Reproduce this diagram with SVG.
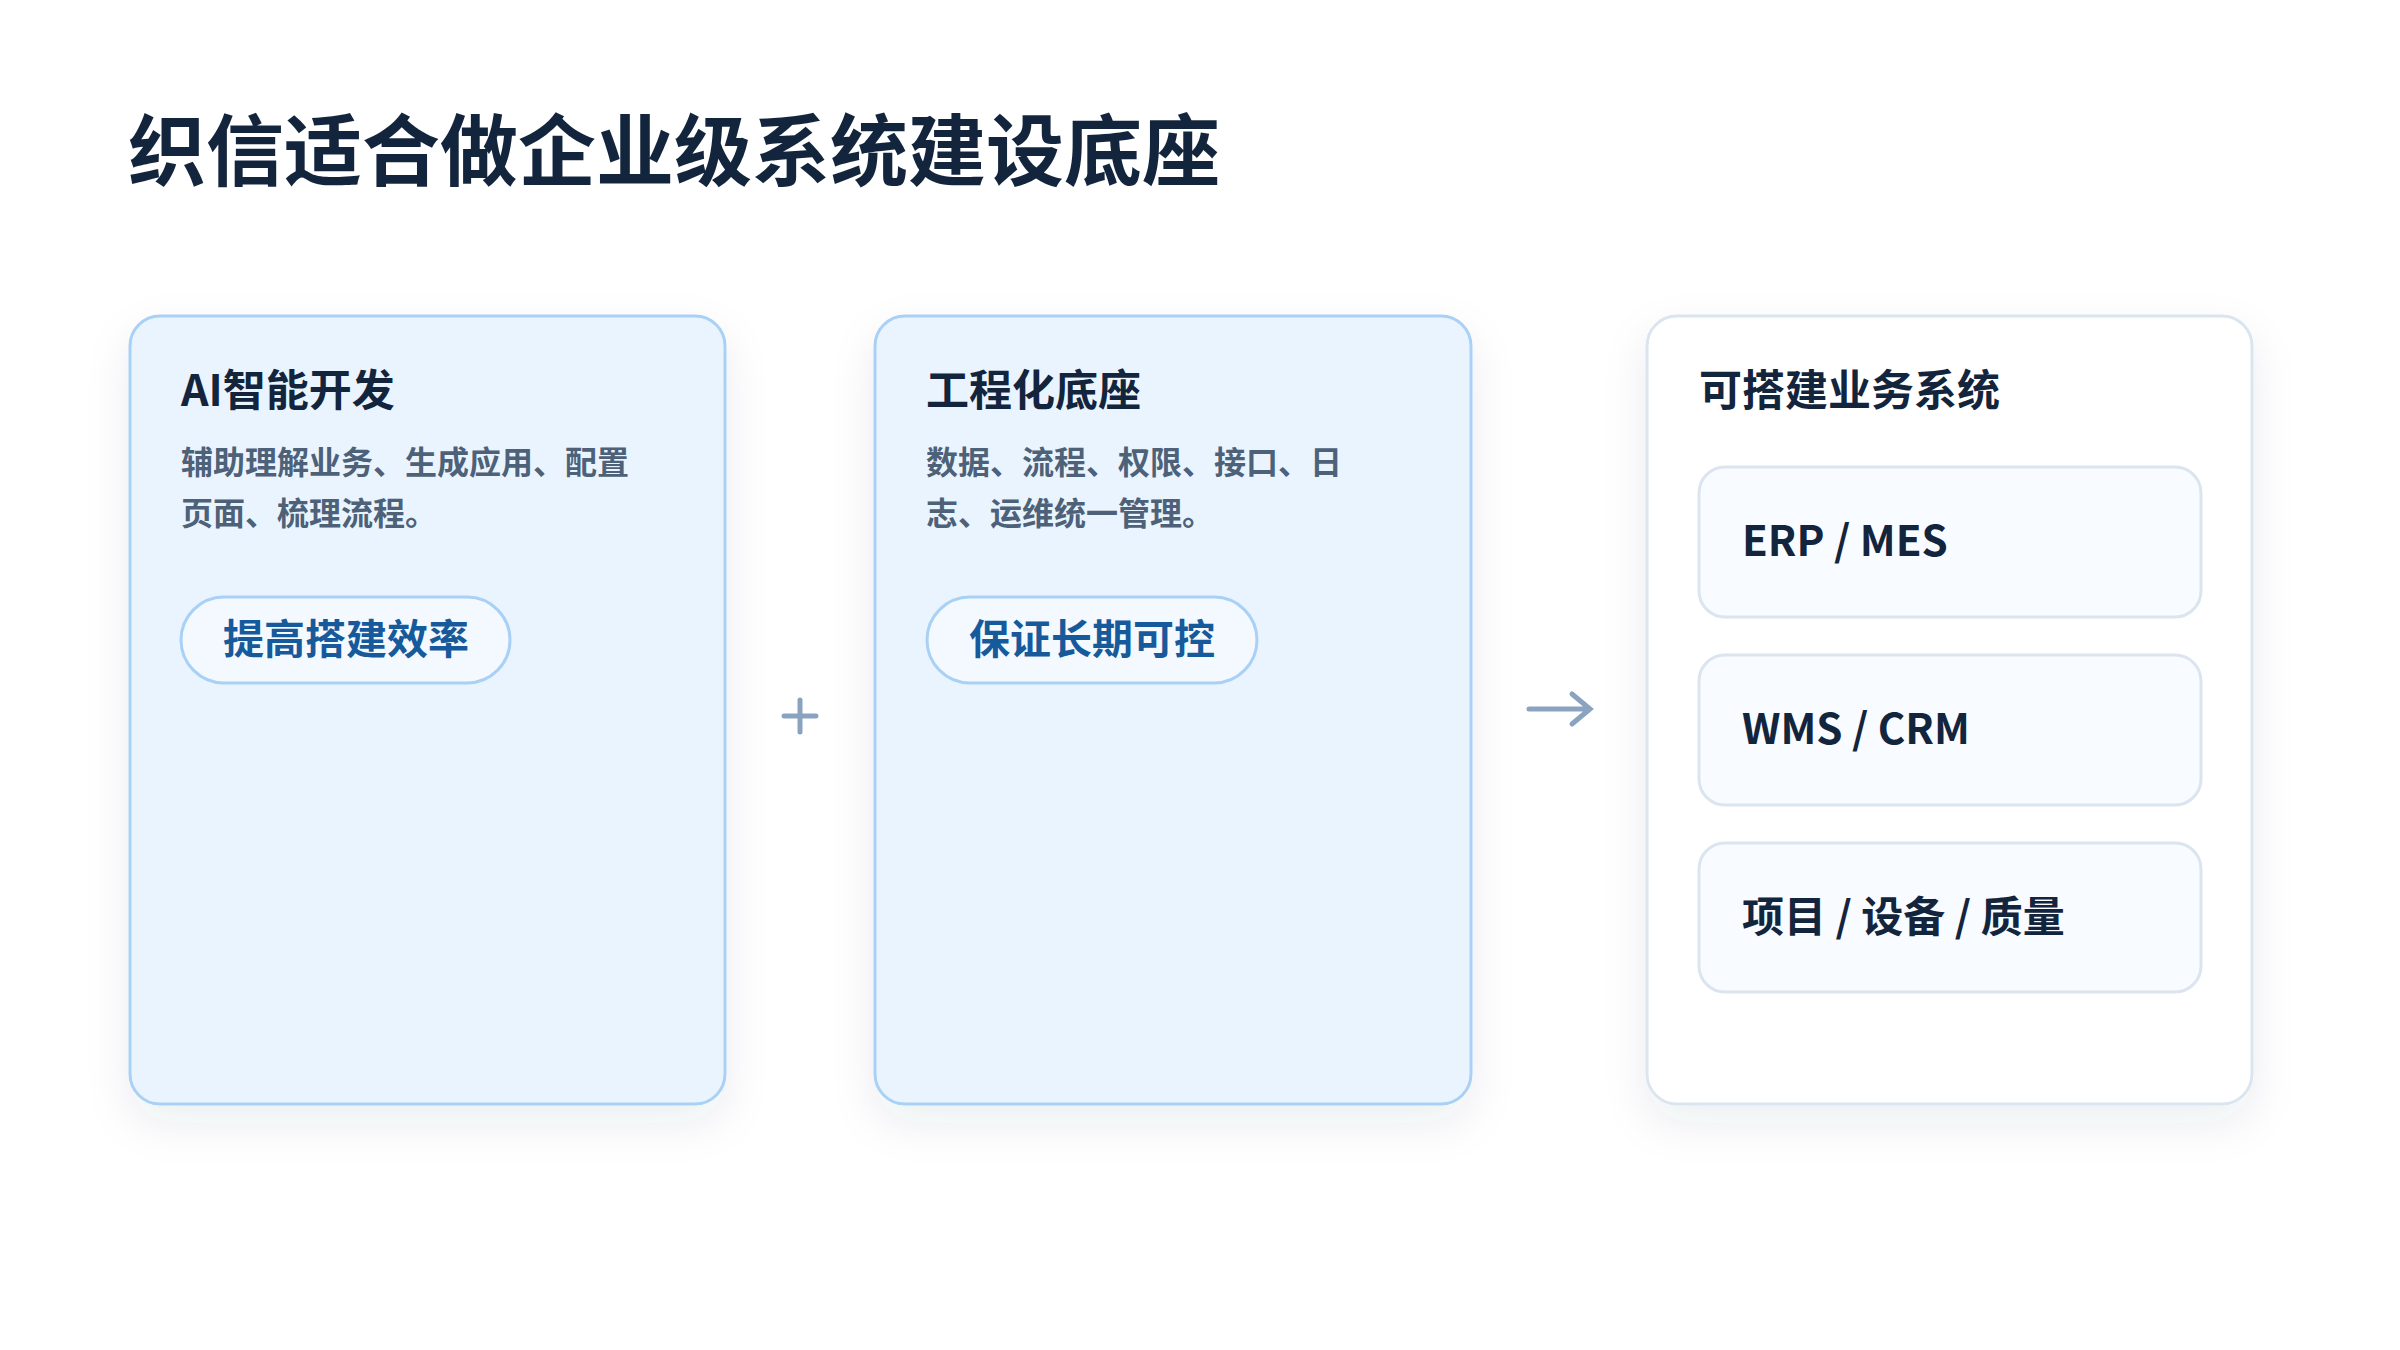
<svg xmlns="http://www.w3.org/2000/svg" width="2400" height="1350" viewBox="0 0 2400 1350">
<defs>
<filter id="sh" x="-20%" y="-20%" width="140%" height="140%"><feDropShadow dx="0" dy="18" stdDeviation="22" flood-color="#1a3050" flood-opacity="0.08"/></filter>
<marker id="ah" markerWidth="10" markerHeight="10" refX="8" refY="5" orient="auto" markerUnits="userSpaceOnUse"/>
</defs>
<style>
text{font-family:"Noto Sans CJK SC","Inter","Noto Sans",sans-serif}
.title{font-size:78px;font-weight:700;fill:#13253d}
.ct{font-size:43px;font-weight:700;fill:#13253d}
.desc{font-size:32px;font-weight:700;fill:#4d6178}
.pill{fill:#f4f9ff;stroke:#a9d0f5;stroke-width:3}
.pt{font-size:41px;font-weight:700;fill:#175a9c;text-anchor:middle}
.card{fill:#eaf4fe;stroke:#a9d0f5;stroke-width:3}
.card3{fill:#ffffff;stroke:#dbe5f0;stroke-width:3}
.box{fill:#f8fbff;stroke:#dbe5f0;stroke-width:3}
.bt{font-size:42px;font-weight:600;fill:#13253d}
.op{stroke:#8aa3c0;stroke-width:5;fill:none;stroke-linecap:round}
</style>
<rect width="2400" height="1350" fill="#ffffff"/>
<text class="title" x="128" y="180">织信适合做企业级系统建设底座</text>
<g id="card-ai">
<rect class="card" x="130" y="316" width="595" height="788" rx="30" filter="url(#sh)"/>
<text class="ct" x="181" y="406">AI智能开发</text>
<text class="desc" x="181" y="474">辅助理解业务、生成应用、配置</text>
<text class="desc" x="181" y="525">页面、梳理流程。</text>
<rect class="pill" x="181" y="597" width="329" height="86" rx="43"/>
<text class="pt" x="346" y="654">提高搭建效率</text>
</g>
<g id="card-eng">
<rect class="card" x="875" y="316" width="596" height="788" rx="30" filter="url(#sh)"/>
<text class="ct" x="926" y="406">工程化底座</text>
<text class="desc" x="926" y="474">数据、流程、权限、接口、日</text>
<text class="desc" x="926" y="525">志、运维统一管理。</text>
<rect class="pill" x="927" y="597" width="330" height="86" rx="43"/>
<text class="pt" x="1092" y="654">保证长期可控</text>
</g>
<g id="card-sys">
<rect class="card3" x="1647" y="316" width="605" height="788" rx="30" filter="url(#sh)"/>
<text class="ct" x="1699" y="406">可搭建业务系统</text>
<g id="sys1"><rect class="box" x="1699" y="467" width="502" height="150" rx="26"/><text class="bt" x="1742" y="556">ERP / MES</text></g>
<g id="sys2"><rect class="box" x="1699" y="655" width="502" height="150" rx="26"/><text class="bt" x="1742" y="744">WMS / CRM</text></g>
<g id="sys3"><rect class="box" x="1699" y="843" width="502" height="149" rx="26"/><text class="bt" x="1742" y="932">项目 / 设备 / 质量</text></g>
</g>
<g id="connectors">
<path class="op" d="M800 700 V732 M784 716 H816"/>
<path class="op" d="M1529 709 H1589 M1572 694 L1590 709 L1572 724"/>
</g>
</svg>
